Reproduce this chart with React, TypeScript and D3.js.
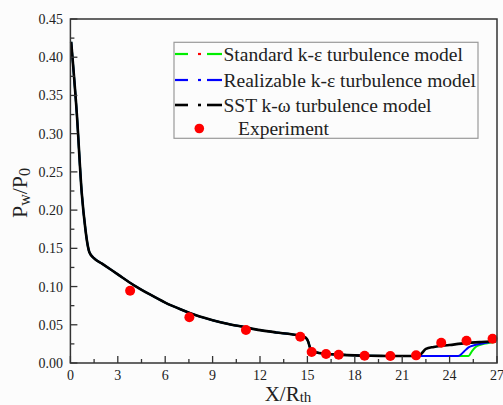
import React from "react";
import * as d3 from "d3";

const W = 503;
const H = 405;
const M = { left: 70.4, right: 6, top: 19, bottom: 42 };

const xTicks = [0, 3, 6, 9, 12, 15, 18, 21, 24, 27];
const yTicks = [0, 0.05, 0.1, 0.15, 0.2, 0.25, 0.3, 0.35, 0.4, 0.45];

// Shared upstream portion (all models coincide)
const commonCurve: [number, number][] = [
  [0.05, 0.42], [0.4, 0.328], [0.72, 0.222], [0.95, 0.175], [1.07, 0.157],
  [1.2, 0.145], [1.5, 0.137], [2, 0.13], [3, 0.116], [4, 0.102], [5, 0.09],
  [6, 0.079], [7, 0.07], [8, 0.062], [9, 0.056], [10, 0.051], [11, 0.047],
  [12, 0.043], [13, 0.04], [14, 0.0375], [14.6, 0.0355], [14.9, 0.033],
  [15.05, 0.028], [15.15, 0.021], [15.3, 0.016], [15.6, 0.0138], [16, 0.0125],
  [17, 0.011], [18, 0.01], [19, 0.0095], [20, 0.0092], [21, 0.0091], [22, 0.0091],
];
const sstTail: [number, number][] = [
  [22.2, 0.0118], [22.5, 0.0185], [23, 0.021], [24, 0.0235], [25, 0.026],
  [26, 0.0275], [26.9, 0.0285],
];
const realizableTail: [number, number][] = [
  [24.55, 0.0091], [24.9, 0.0148], [25.2, 0.0205], [25.6, 0.0235],
  [26.2, 0.026], [26.9, 0.028],
];
const standardTail: [number, number][] = [
  [25.2, 0.0091], [25.43, 0.016], [25.65, 0.021], [26, 0.024], [26.9, 0.0275],
];

const expX = [3.78, 7.53, 11.11, 14.55, 15.27, 16.18, 16.98, 18.62, 20.25, 21.88, 23.47, 25.07, 26.72];
const expY = [0.0946, 0.0598, 0.0432, 0.0344, 0.0144, 0.0118, 0.0109, 0.0096, 0.0092, 0.01, 0.0266, 0.0292, 0.0318];

const legendLabels = [
  "Standard k-ε turbulence model",
  "Realizable k-ε turbulence model",
  "SST k-ω turbulence model",
  "Experiment",
];

const FONT = "Liberation Serif";

export default function App() {
  const x = d3.scaleLinear().domain([0, 27]).range([M.left, W - M.right]);
  const y = d3.scaleLinear().domain([0, 0.45]).range([H - M.bottom, M.top]);
  const line = d3
    .line<[number, number]>()
    .x((d) => x(d[0]))
    .y((d) => y(d[1]))
    .curve(d3.curveMonotoneX);

  const standard = [...commonCurve, ...standardTail.filter((d) => d[0] > 22)];
  const realizable = [...commonCurve, ...realizableTail.filter((d) => d[0] > 22)];
  const sst = [...commonCurve, ...sstTail];

  const x0 = M.left;
  const x1 = W - M.right;
  const y0 = H - M.bottom;
  const y1 = M.top;

  const xMinor = d3.range(0, 27.01, 1.5).filter((v) => !xTicks.includes(v));
  const yMinor = yTicks.slice(0, -1).map((v) => v + 0.025);

  const legendRows = [54, 80, 105, 128.5];
  const legendColors = ["#00ee00", "#0000ff", "#000000"];
  const dotColors = ["#ff0000", "#0000ff", "#000000"];

  return (
    <svg
      width={W}
      height={H}
      fontFamily={FONT}
      style={{ position: "absolute", left: 0, top: 0, background: "#fcfcfc" }}
    >
      <rect x={0} y={0} width={W} height={H} fill="#fcfcfc" />
      {/* curves */}
      <path d={line(standard) || ""} fill="none" stroke="#00ee00" strokeWidth={2} />
      <path d={line(realizable) || ""} fill="none" stroke="#0000ff" strokeWidth={2} />
      <path d={line(sst) || ""} fill="none" stroke="#000" strokeWidth={2.6} />
      {/* experiment */}
      {expX.map((v, i) => (
        <circle key={i} cx={x(v)} cy={y(expY[i])} r={5} fill="#ff0000" />
      ))}
      {/* frame */}
      <rect x={x0} y={y1} width={x1 - x0} height={y0 - y1} fill="none" stroke="#333" strokeWidth={1.5} />
      {/* x ticks */}
      {xTicks.map((t) => (
        <g key={"xt" + t}>
          <line x1={x(t)} x2={x(t)} y1={y0} y2={y0 - 7} stroke="#333" strokeWidth={1.3} />
          <text x={x(t)} y={380} textAnchor="middle" fontFamily={FONT} fontSize={14} fill="#222">
            {t}
          </text>
        </g>
      ))}
      {xMinor.map((t) => (
        <line key={"xm" + t} x1={x(t)} x2={x(t)} y1={y0} y2={y0 - 4} stroke="#333" strokeWidth={1.3} />
      ))}
      {/* y ticks */}
      {yTicks.map((t) => (
        <g key={"yt" + t}>
          <line x1={x0} x2={x0 + 7} y1={y(t)} y2={y(t)} stroke="#333" strokeWidth={1.3} />
          <text x={63} y={y(t) + 5} textAnchor="end" fontFamily={FONT} fontSize={14} fill="#222">
            {t.toFixed(2)}
          </text>
        </g>
      ))}
      {yMinor.map((t) => (
        <line key={"ym" + t} x1={x0} x2={x0 + 4} y1={y(t)} y2={y(t)} stroke="#333" strokeWidth={1.3} />
      ))}
      {/* axis titles */}
      <text transform="translate(27,193) rotate(-90)" textAnchor="middle" fontFamily={FONT} fontSize={22} fill="#222">
        P<tspan fontSize={16} dy={3}>w</tspan>
        <tspan dy={-3}>/P</tspan>
        <tspan fontSize={16} dy={3}>0</tspan>
      </text>
      <text x={288} y={401} textAnchor="middle" fontFamily={FONT} fontSize={21} fill="#222">
        X/R<tspan fontSize={15} dy={1}>th</tspan>
      </text>
      {/* legend */}
      <rect x={174} y={42.3} width={304} height={96} fill="#fcfcfc" stroke="#999" strokeWidth={1.2} />
      {legendColors.map((c, i) => (
        <g key={"lg" + i}>
          <line x1={175} x2={188} y1={legendRows[i]} y2={legendRows[i]} stroke={c} strokeWidth={i === 2 ? 2.6 : 2.2} />
          <line x1={198} x2={201} y1={legendRows[i]} y2={legendRows[i]} stroke={dotColors[i]} strokeWidth={i === 2 ? 2.6 : 2.2} />
          <line x1={207} x2={222} y1={legendRows[i]} y2={legendRows[i]} stroke={c} strokeWidth={i === 2 ? 2.6 : 2.2} />
          <text x={223.5} y={legendRows[i] + 6.5} fontFamily={FONT} fontSize={19.5} fill="#222">
            {legendLabels[i]}
          </text>
        </g>
      ))}
      <circle cx={199.3} cy={legendRows[3]} r={4.8} fill="#ff0000" />
      <text x={238} y={legendRows[3] + 6.5} fontFamily={FONT} fontSize={19.5} fill="#222">
        {legendLabels[3]}
      </text>
    </svg>
  );
}
